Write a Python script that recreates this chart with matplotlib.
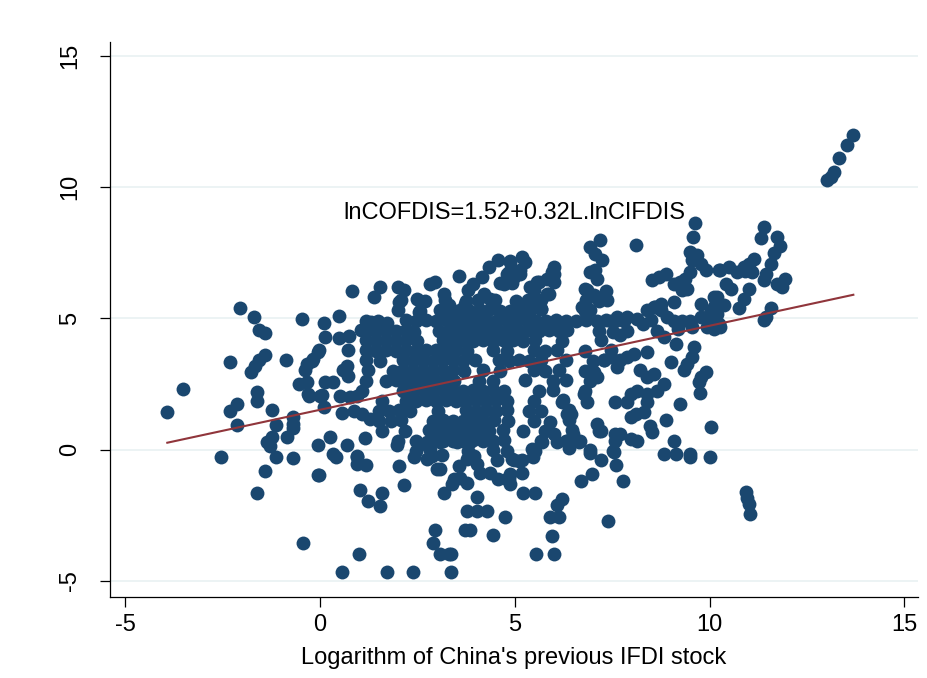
import numpy as np
import matplotlib
matplotlib.use("Agg")
import matplotlib.pyplot as plt

# regression reported on the chart
intercept = 1.52
slope = 0.32
eq_label = "lnCOFDIS=1.52+0.32L.lnCIFDIS"
x_label = "Logarithm of China's previous IFDI stock"
x_ticks = [-5, 0, 5, 10, 15]
y_ticks = [-5, 0, 5, 10, 15]

# points (x = L.lnCIFDIS, y = lnCOFDIS)
left_pts = [
    (-3.92, 1.42), (-3.52, 2.32), (-2.55, -0.29), (-2.31, 3.33), (-2.06, 5.39), (-2.14, 1.74),
    (-2.31, 1.49), (-2.14, 0.95), (-1.69, 5.05), (-1.57, 4.57), (-1.41, 4.44), (-1.41, 3.59),
    (-1.56, 3.42), (-1.67, 3.2), (-1.78, 2.95), (-1.62, 2.19), (-1.62, 1.87), (-1.23, 1.52),
    (-1.14, 0.95), (-1.24, 0.5), (-1.37, 0.28), (-1.29, 0.15), (-1.13, -0.27), (-1.41, -0.8),
    (-1.63, -1.65), (-0.88, 3.42), (-0.45, 4.96), (-0.39, 3.02), (-0.21, 3.36), (-0.04, 3.74),
    (-0.54, 2.51), (-0.34, 2.57), (-0.28, 2.04), (0.0, 2.04), (-0.7, 1.26), (-0.7, 0.98),
    (-0.7, 0.83), (-0.86, 0.47), (-0.04, 0.19), (-0.7, -0.33), (-0.04, -0.95), (-0.43, -3.56),
    (0.09, 4.84), (0.49, 5.11), (0.81, 6.03), (0.13, 4.29), (0.5, 4.26), (0.75, 4.32),
    (0.73, 3.78), (-0.03, 3.78), (-0.17, 3.46), (-0.34, 3.27), (0.69, 3.17), (0.6, 3.02),
    (0.73, 2.82), (0.13, 2.57), (0.34, 2.57), (-0.3, 2.12), (0.04, 2.1), (0.51, 2.06),
    (0.77, 2.0), (0.94, 2.06), (0.11, 1.61), (0.56, 1.39), (0.86, 1.49), (0.26, 0.47),
    (0.69, 0.19), (1.16, 0.45), (0.34, -0.15), (0.94, -0.23), (1.07, 1.36), (1.29, 1.17),
    (1.05, 4.57), (1.3, 4.86), (1.54, 4.64), (1.71, 4.82), (1.39, 5.81), (1.54, 6.2),
    (0.41, -0.27), (0.96, -0.27), (0.96, -0.55), (1.18, -0.57), (-0.02, -0.95),
]

upper_pts = [
    (2.01, 6.2), (2.16, 6.07), (2.04, 5.62), (2.49, 5.75), (2.7, 5.65), (2.83, 6.32),
    (2.96, 6.39), (3.19, 5.94), (2.55, 5.24), (3.56, 6.6), (3.93, 6.32), (4.16, 6.58),
    (4.33, 6.94), (4.58, 7.24), (4.87, 7.19), (4.84, 6.77), (4.63, 6.35), (4.93, 6.35),
    (3.3, 5.5), (3.73, 5.56), (3.81, 6.07), (4.2, 5.94), (4.5, 5.69), (5.14, 6.71),
    (4.8, 6.71), (4.71, 6.32), (5.4, 6.2), (5.57, 6.39), (5.83, 6.52), (6.0, 6.71),
    (5.87, 5.94), (5.48, 5.62), (5.66, 5.37), (5.06, 5.56), (4.88, 7.15), (5.18, 7.34),
    (5.27, 7.15), (5.14, 6.83), (6.0, 6.96), (5.96, 6.77), (5.91, 6.52), (6.0, 6.39),
    (5.83, 5.94), (5.61, 6.39), (5.48, 6.07), (4.97, 6.58), (7.18, 8.0), (6.92, 7.72),
    (7.07, 7.47), (7.24, 7.21), (7.05, 6.83), (7.11, 6.52), (7.33, 6.04), (6.81, 6.13),
    (6.94, 5.88), (6.94, 6.77), (6.86, 6.07), (7.03, 5.88), (7.37, 5.69), (6.73, 5.43),
    (6.94, 5.31), (8.1, 7.79), (9.62, 8.64), (9.57, 8.1), (9.51, 7.53), (9.68, 7.4),
    (9.56, 7.21), (9.77, 7.09), (10.24, 6.83), (9.51, 6.77), (9.38, 6.52), (8.53, 6.48),
    (8.7, 6.58), (8.87, 6.71), (9.08, 6.32), (9.25, 6.39), (9.43, 6.13), (9.3, 6.07),
    (9.77, 5.56), (10.11, 5.81), (9.08, 5.62), (8.74, 5.56), (8.61, 5.43),
]

core_pts = [
    (2.08, 5.7), (2.57, 5.68), (3.21, 5.72), (3.75, 5.66), (4.06, 5.7), (4.37, 5.74),
    (5.04, 5.68), (5.35, 5.7), (5.66, 5.72), (6.84, 5.7), (7.15, 5.66),
    (2.0, 5.31), (2.57, 5.28), (3.08, 5.33), (3.34, 5.3), (3.6, 5.32), (3.86, 5.28),
    (4.11, 5.31), (4.37, 5.34), (4.63, 5.3), (4.88, 5.27), (5.14, 5.32), (5.4, 5.3),
    (5.68, 5.34), (6.81, 5.3),
    (1.18, 4.92), (1.49, 4.9), (2.21, 4.94), (2.47, 4.9), (2.72, 4.93), (2.98, 4.9),
    (3.24, 4.95), (3.5, 4.91), (3.75, 4.92), (4.01, 4.89), (4.27, 4.94), (4.52, 4.9),
    (4.78, 4.93), (5.04, 4.91), (5.3, 4.95), (5.55, 4.9), (5.81, 4.92), (6.07, 4.94),
    (6.32, 4.89), (6.58, 4.92), (6.84, 4.95), (7.1, 4.9), (7.35, 4.93), (7.56, 4.9),
    (1.18, 4.54), (1.44, 4.52), (1.7, 4.56), (1.95, 4.53), (2.21, 4.55), (2.42, 4.5),
    (3.06, 4.54), (3.32, 4.52), (3.57, 4.56), (3.83, 4.53), (4.09, 4.55), (4.34, 4.51),
    (4.6, 4.54), (4.86, 4.57), (5.12, 4.52), (5.37, 4.55), (5.63, 4.53), (5.89, 4.56),
    (6.14, 4.52), (6.35, 4.55), (7.17, 4.54), (7.51, 4.5),
    (1.18, 4.16), (1.44, 4.14), (1.7, 4.18), (1.95, 4.15), (2.21, 4.17), (2.49, 4.14),
    (3.16, 4.16), (3.42, 4.13), (3.68, 4.18), (3.93, 4.15), (4.19, 4.17), (4.45, 4.14),
    (4.7, 4.16), (4.96, 4.18), (5.22, 4.14), (5.53, 4.16), (6.22, 4.15), (7.2, 4.17),
    (1.18, 3.78), (1.44, 3.76), (1.7, 3.8), (1.95, 3.77), (2.21, 3.79), (2.47, 3.75),
    (2.72, 3.78), (2.98, 3.8), (3.24, 3.76), (3.5, 3.79), (3.78, 3.77), (4.45, 3.78),
    (4.81, 3.76), (5.48, 3.79), (5.78, 3.77), (6.09, 3.8), (6.81, 3.76), (7.48, 3.78),
    (1.18, 3.4), (1.54, 3.38), (2.13, 3.42), (2.39, 3.39), (2.65, 3.41), (2.9, 3.37),
    (3.16, 3.4), (3.42, 3.43), (3.68, 3.39), (3.98, 3.41), (4.6, 3.4), (4.86, 3.38),
    (5.12, 3.42), (5.37, 3.39), (5.68, 3.41), (6.32, 3.4), (7.02, 3.38), (7.3, 3.41),
    (1.23, 3.02), (1.88, 3.0), (2.13, 3.04), (2.39, 3.01), (2.65, 3.03), (2.9, 2.99),
    (3.16, 3.02), (3.42, 3.05), (3.7, 3.01), (4.19, 3.02), (4.63, 3.0), (5.48, 3.03),
    (5.78, 3.01), (6.14, 3.02), (6.81, 3.0),
    (1.18, 2.63), (1.7, 2.61), (1.95, 2.65), (2.21, 2.62), (2.47, 2.64), (2.72, 2.6),
    (2.98, 2.63), (3.24, 2.66), (3.44, 2.62), (4.09, 2.63), (4.45, 2.61), (5.27, 2.64),
    (5.99, 2.62), (6.32, 2.65), (6.94, 2.63),
    (1.08, 2.25), (2.13, 2.25), (2.39, 2.23), (2.65, 2.27), (2.9, 2.24), (3.16, 2.26),
    (3.42, 2.22), (3.68, 2.25), (3.93, 2.28), (4.19, 2.24), (4.45, 2.26), (4.73, 2.23),
    (5.63, 2.25), (5.99, 2.27), (6.81, 2.24),
    (1.59, 1.87), (2.21, 1.87), (2.47, 1.85), (2.72, 1.89), (2.98, 1.86), (3.24, 1.88),
    (3.5, 1.84), (3.75, 1.87), (4.01, 1.9), (4.27, 1.86), (4.52, 1.88), (4.81, 1.85),
    (5.5, 1.87), (6.25, 1.88),
    (1.52, 1.49), (1.77, 1.47), (2.03, 1.51), (2.31, 1.48), (3.03, 1.49), (3.75, 1.5),
    (4.01, 1.47), (4.27, 1.51), (4.52, 1.48), (4.81, 1.5), (5.37, 1.49), (5.68, 1.47),
    (6.38, 1.5),
    (1.52, 1.11), (1.83, 1.09), (2.08, 1.13), (2.9, 1.1), (3.16, 1.12), (3.42, 1.08),
    (3.68, 1.11), (3.93, 1.14), (4.19, 1.1), (4.47, 1.12), (4.83, 1.09), (5.48, 1.11),
    (6.38, 1.12),
    (1.59, 0.73), (2.19, 0.72), (2.8, 0.75), (3.06, 0.71), (3.32, 0.74), (3.57, 0.72),
    (3.83, 0.76), (4.09, 0.71), (4.34, 0.73), (4.7, 0.74), (5.22, 0.72), (5.78, 0.73),
    (6.48, 0.74), (7.15, 0.72),
    (2.0, 0.34), (2.47, 0.33), (2.9, 0.36), (3.16, 0.32), (3.42, 0.35), (3.68, 0.33),
    (3.93, 0.37), (4.19, 0.32), (4.45, 0.34), (4.73, 0.36), (5.66, 0.34), (6.32, 0.33),
    (6.68, 0.35), (7.58, 0.34),
    (2.47, -0.04), (2.83, -0.02), (3.8, -0.05), (4.45, -0.03), (4.81, -0.06), (5.53, -0.04),
    (6.94, -0.03), (7.53, -0.05),
]

right_pts = [
    (11.4, 8.48), (11.31, 8.08), (11.72, 8.1), (11.8, 7.75), (11.65, 7.49), (11.57, 7.09),
    (11.14, 7.28), (11.01, 7.09), (10.88, 6.96), (10.71, 6.77), (10.5, 6.96), (10.28, 6.83),
    (10.9, 6.8), (11.1, 6.75), (11.44, 6.71), (11.4, 6.45), (11.74, 6.32), (11.87, 6.19),
    (11.93, 6.52), (10.41, 6.32), (10.54, 6.13), (11.01, 6.13), (10.88, 5.75), (10.75, 5.41),
    (10.2, 5.81), (10.15, 5.5), (10.03, 5.24), (9.94, 5.05), (10.11, 4.8), (10.24, 4.8),
    (10.36, 5.5), (11.57, 5.41), (11.4, 4.95), (11.44, 5.05), (9.9, 6.83),
    (7.88, 5.05), (8.14, 4.99), (8.4, 5.31), (8.57, 5.43), (8.74, 5.31), (8.91, 5.05),
    (9.08, 4.92), (9.3, 4.92), (9.51, 4.92), (9.77, 5.05), (10.03, 5.31), (10.2, 5.18),
    (7.46, 4.92), (7.63, 5.05), (7.8, 4.92), (7.88, 4.54), (7.71, 4.35), (8.66, 4.54),
    (8.83, 4.29), (9.56, 4.67), (9.94, 4.67), (10.11, 4.61), (10.28, 4.67), (8.3, 4.8),
    (8.5, 4.95), (9.2, 4.6),
    (8.4, 3.71), (9.0, 3.33), (9.13, 4.03), (9.6, 3.9), (9.56, 3.52), (9.43, 3.27),
    (9.34, 3.02), (9.9, 2.95), (9.77, 2.76), (9.72, 2.57), (9.75, 2.15), (9.25, 1.74),
    (8.83, 2.51), (8.66, 2.25), (8.4, 2.13), (8.4, 1.81), (8.87, 1.13), (10.03, 0.85),
    (8.48, 0.92), (8.53, 0.66), (9.08, 0.34), (8.22, 3.02), (8.4, 2.76), (8.57, 2.89),
    (8.05, 3.65), (7.88, 3.52), (7.71, 3.4), (7.63, 3.14), (7.58, 1.81), (8.14, 2.25),
    (7.97, 2.13), (7.88, 1.81), (7.97, 1.24), (8.1, 1.37), (8.31, 1.43),
    (6.34, 1.37), (6.43, 1.37), (6.21, 1.81), (6.77, 2.13), (6.86, 1.81), (7.11, 2.76),
    (7.03, 2.95), (7.28, 3.4), (7.46, 3.52), (7.11, 0.98), (7.2, 0.73), (7.58, 0.59),
    (7.71, 0.59), (7.97, 0.42), (8.14, 0.34), (5.91, 1.04), (6.0, 0.6), (6.34, 0.34),
    (6.5, 0.6),
]

lower_pts = [
    (8.83, -0.17), (9.14, -0.17), (9.49, -0.17), (9.49, -0.29), (10.0, -0.27), (7.54, -0.1),
    (7.6, -0.57), (7.77, -1.18), (7.39, -2.71), (6.94, -0.14), (7.22, -0.39), (6.98, -0.93),
    (6.7, -1.18), (6.21, -1.88), (6.08, -2.1), (5.91, -2.56), (6.13, -2.56), (5.96, -3.28),
    (5.55, -3.98), (6.0, -3.98), (4.76, -2.56), (5.21, -1.65), (5.53, -1.65), (5.18, -0.9),
    (4.84, -1.12), (4.88, -1.31), (4.97, -0.39), (5.18, -0.39), (5.47, -0.29), (5.44, 0.03),
    (5.7, 0.28), (6.08, 0.28), (6.38, 0.06), (6.64, 0.28),
    (1.97, 0.19), (2.53, 0.19), (2.74, 0.28), (3.08, 0.28), (3.51, 0.28), (3.86, 0.28),
    (2.4, -0.27), (2.74, -0.36), (2.87, -0.23), (3.14, -0.19), (3.0, -0.74), (3.08, -0.74),
    (3.56, -0.61), (3.77, -0.36), (3.94, -0.23), (4.03, -0.55), (4.11, -0.87), (4.54, -0.39),
    (4.93, -0.36), (5.1, -0.42), (4.37, -0.87), (4.58, -1.12), (4.8, -1.12), (4.88, -0.93),
    (3.43, -1.12), (3.6, -1.06), (3.77, -1.25), (3.39, -1.31), (1.03, -1.53), (1.59, -1.65),
    (1.24, -1.95), (1.54, -2.15), (2.16, -1.35), (3.19, -1.65), (4.03, -1.82), (3.77, -2.35),
    (4.03, -2.35), (4.28, -2.35), (3.73, -3.06), (3.86, -3.06), (2.96, -3.05), (2.89, -3.56),
    (3.08, -3.96), (3.3, -3.96), (3.36, -3.96), (4.44, -3.26), (1.01, -3.96), (0.56, -4.66),
    (1.71, -4.66), (2.38, -4.66), (3.37, -4.66), (2.03, -0.61),
]

outlier_pts = [
    (13.02, 10.27), (13.11, 10.4), (13.2, 10.58), (13.32, 11.12), (13.52, 11.6), (13.69, 11.98),
    (10.94, -1.63), (10.97, -1.85), (11.01, -2.07), (11.05, -2.45),
]

pts = np.array(left_pts + upper_pts + core_pts + right_pts + lower_pts + outlier_pts)
x, y = pts[:, 0], pts[:, 1]

plt.rcParams['font.family'] = ['Liberation Sans', 'DejaVu Sans']
plt.rcParams['axes.unicode_minus'] = False

fig = plt.figure(figsize=(9.27, 6.78), dpi=100)
ax = fig.add_axes([0.1187, 0.1195, 0.8716, 0.8186])

for v in y_ticks:
    ax.axhline(v, color='#eaf2f3', lw=1.3, zorder=0)

ax.scatter(x, y, s=100, color='#1a476f', linewidths=0, zorder=2)

xl = np.array([x.min(), x.max()])
ax.plot(xl, intercept + slope * xl, color='#90353b', lw=1.5, zorder=3)

ax.text(5.0, 9.0, eq_label, fontsize=17, ha='center', va='center', zorder=4)

ax.set_xlim(-5.39, 15.35)
ax.set_ylim(-5.61, 15.53)
ax.set_xticks(x_ticks)
ax.set_yticks(y_ticks)
ax.set_xlabel(x_label, fontsize=17, labelpad=8)
for lab in ax.get_yticklabels():
    lab.set_rotation(90)
    lab.set_va('center')
ax.tick_params(axis='both', labelsize=17, length=7, width=0.9, direction='out')
ax.tick_params(axis='y', pad=14)
ax.tick_params(axis='x', pad=5)
ax.spines['top'].set_visible(False)
ax.spines['right'].set_visible(False)
ax.spines['left'].set_linewidth(0.9)
ax.spines['bottom'].set_linewidth(0.9)

fig.savefig('out.png', dpi=100, facecolor='white')
